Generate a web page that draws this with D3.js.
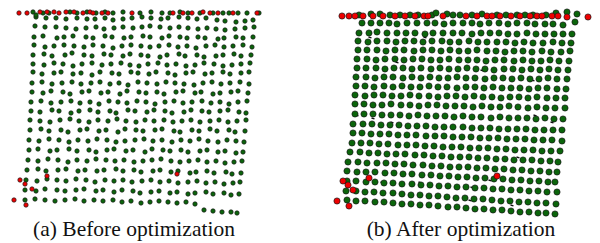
<!DOCTYPE html>
<html>
<head>
<meta charset="utf-8">
<script src="https://cdn.jsdelivr.net/npm/d3@7"></script>
<style>
  html, body { margin: 0; padding: 0; background: #fff; }
  svg { display: block; }
</style>
</head>
<body>
<div id="chart"></div>
<script>
// ---------------- DATA ----------------
const captions = ["(a) Before optimization", "(b) After optimization"];

// Panel (a): grid rows (x per point, y per point), panel units
const aRowsX = [
  [36,46,56,66,77,87,95,105,113,123,132,142,151,161,168,179,188,197,206,217,225,236,245,253],
  [35,45,56,66,76,86,96,104,114,123,133,142,150,160,170,179,188,198,207,216,225,235,245,254],
  [34,43,57,64,73,86,93,105,112,124,131,143,150,162,169,180,187,198,205,218,224,236,243,253],
  [34,45,54,64,74,84,93,103,113,122,131,141,150,159,169,178,187,196,206,215,224,233,243,252],
  [33,44,52,65,72,84,92,104,111,123,130,141,148,160,167,179,185,197,204,216,223,234,241,251],
  [33,44,54,63,73,82,92,102,111,121,130,139,148,158,167,176,186,195,204,214,223,232,241,250],
  [33,42,54,61,73,81,92,100,112,119,131,138,149,156,168,175,186,193,205,212,223,230,241,249],
  [32,42,52,62,72,81,91,100,110,119,128,138,147,157,166,175,184,194,203,212,221,230,240,249],
  [32,43,51,63,70,82,89,101,108,120,127,139,146,157,164,176,183,195,201,213,220,231,238,248],
  [31,41,51,61,71,80,90,99,109,118,127,137,146,155,165,174,183,192,202,211,220,229,238,247],
  [31,40,52,59,71,79,90,98,110,116,128,135,147,154,165,172,184,191,202,209,220,228,239,246],
  [30,40,50,60,70,79,89,98,108,117,126,136,145,154,164,173,182,191,200,210,219,228,237,246],
  [30,41,49,61,68,80,87,99,106,118,125,136,143,155,162,174,180,192,199,210,217,229,235,245],
  [29,39,49,59,69,78,88,97,107,116,125,135,144,153,162,172,181,190,199,208,218,227,236,244],
  [29,38,50,57,69,77,89,96,107,114,126,133,145,152,163,170,181,188,200,207,218,225,236,243],
  [28,38,48,58,68,77,87,96,106,115,124,134,143,152,161,171,180,189,198,207,216,225,234,242],
  [27,38,46,58,66,78,85,97,104,116,123,134,141,153,160,171,178,190,196,207,214,226,232,241],
  [26,37,47,57,66,76,86,95,105,114,123,132,142,151,160,169,178,188,197,206,215,224,233,240],
  [25,36,45,57,65,76,84,96,103,114,122,133,140,151,159,170,177,188,195,206,213,224,231,239],
  [25,35,45,55,65,75,84,94,103,113,122,131,141,150,159,168,177,186,195,204,213,222,231,237]
];
const aRowsY = [
  [17,18,18,19,18,19,19,18,20,19,18,17,18,19,18,17,18,19,18,20,21,22,21,20],
  [26,27,27,28,29,28,27,29,28,27,28,27,26,27,28,27,28,29,28,29,30,29,28,27],
  [37,36,38,37,36,37,38,36,37,38,37,36,37,38,36,37,38,37,38,39,38,37,38,37],
  [45,47,46,45,46,47,45,46,48,46,45,46,47,46,45,47,46,48,46,45,47,46,45,47],
  [55,54,56,55,53,55,56,54,55,56,54,55,56,57,55,54,56,55,57,56,55,54,56,55],
  [64,65,63,64,66,64,63,65,64,63,65,66,64,63,65,64,66,65,63,64,66,65,64,63],
  [72,74,73,72,74,73,75,72,73,74,72,73,74,72,73,75,73,72,74,73,72,74,73,72],
  [83,82,84,83,82,84,83,82,84,83,85,82,83,84,82,83,84,85,83,82,84,83,82,84],
  [92,93,91,92,94,92,91,93,92,94,91,92,93,92,94,92,91,93,92,94,93,92,91,93],
  [102,101,103,102,101,103,102,104,101,102,103,101,102,104,102,101,103,102,101,103,102,104,102,101],
  [111,112,110,111,113,111,110,112,111,113,110,111,112,110,111,113,112,110,111,112,111,110,112,113],
  [120,121,122,120,119,121,122,120,121,119,121,122,120,121,120,122,121,120,122,121,120,122,121,120],
  [130,129,131,130,132,130,129,131,130,132,129,130,131,130,129,131,132,130,131,129,131,130,132,131],
  [140,141,139,140,142,140,141,139,140,142,141,140,139,141,140,142,140,141,139,141,142,140,141,142],
  [150,149,151,150,149,151,150,152,150,149,151,150,152,149,150,151,150,152,151,150,152,151,153,152],
  [160,161,159,160,162,160,161,159,160,161,160,162,161,160,159,161,162,161,160,162,161,163,162,161],
  [170,169,171,170,169,171,170,171,170,169,171,170,172,171,170,172,171,173,172,171,173,172,174,173],
  [180,181,179,180,181,179,180,182,180,181,180,182,181,180,182,181,183,182,181,183,182,184,183,182],
  [190,191,189,190,191,190,189,191,190,192,190,191,193,192,191,193,192,194,193,192,194,193,195,194],
  [200,199,200,201,200,199,201,200,201,200,202,201,203,202,201,202,203,202,204,210,211,212,212,213]
];
// Panel (a) top edge points
const aTopRed = [[19,13],[27,13],[40,12],[47,12],[54,12],[59,13],[66,12],[74,12],[83,13],[90,12],[93,13],[102,13],[108,13],[132,13],[173,13],[183,13],[192,13],[203,12],[210,13],[218,13],[233,13],[257,13]];
const aTopGreen = [[33,12],[36,15],[43,13],[49,13],[70,12],[77,13],[87,12],[96,13],[105,12],[113,13],[123,12],[140,13],[151,12],[162,13],[170,13],[180,12],[188,13],[200,13],[213,13],[223,13],[229,13],[238,13],[247,13],[259,13]];
// Panel (a) red outliers
const aRed = [[14,200],[26,205],[20,180],[25,184],[32,189],[47,176],[177,174]];

// Panel (b): grid rows
const bRowsX = [
  [62,71,80,89,97,107,117,127,135,144,153,163,172,180,189,199,208,217,227,235,245,253,263,275],
  [59,69,77,87,97,106,115,125,133,143,153,162,172,181,190,199,208,217,227,236,245,254,263,272],
  [58,68,77,87,96,105,114,123,132,142,150,159,169,178,187,197,206,215,224,233,243,253,262,271],
  [58,67,77,86,95,104,114,123,132,141,150,159,168,177,187,196,205,214,223,232,242,251,261,270],
  [57,67,76,85,95,104,113,122,131,140,149,159,168,177,186,195,204,214,223,232,241,250,259,269],
  [57,66,76,85,94,103,112,121,131,140,149,158,167,176,185,194,204,213,222,231,240,249,258,268],
  [56,66,75,84,93,103,112,121,130,139,148,157,166,175,185,194,203,212,221,230,239,248,257,267],
  [56,65,74,84,93,102,111,120,129,138,147,157,166,175,184,193,202,211,220,229,238,247,257,266],
  [55,65,74,83,92,101,110,119,129,138,147,156,165,174,183,192,201,210,219,228,237,247,256,265],
  [55,64,73,82,91,101,110,119,128,137,146,155,164,173,182,191,200,209,218,228,237,246,255,265],
  [55,64,73,82,91,100,109,118,127,136,145,154,163,172,181,191,200,209,218,227,236,245,254,263],
  [53,63,72,81,90,99,108,117,126,135,144,153,163,172,181,190,199,208,217,226,235,244,253,262],
  [53,62,71,80,89,98,107,116,126,135,144,153,162,171,180,189,198,207,216,225,234,243,252,262],
  [52,61,70,79,88,98,107,116,125,134,143,152,161,170,179,188,197,206,215,224,233,242,251,260],
  [50,60,69,78,87,96,105,115,124,133,142,151,160,169,178,187,196,205,214,223,232,241,250,258],
  [48,58,67,77,86,95,104,113,123,132,141,150,159,168,177,186,195,204,213,222,231,240,249,257],
  [47,57,66,75,85,94,103,112,122,131,140,149,158,167,176,185,194,203,212,221,230,239,248,255],
  [47,56,66,75,84,93,102,112,121,130,139,148,157,166,175,184,193,202,211,220,229,238,247,257],
  [46,56,65,74,83,93,102,111,120,129,138,147,156,165,174,183,192,201,210,219,228,237,246,256],
  [47,56,65,75,84,93,102,111,120,129,138,148,157,166,175,184,193,202,211,220,229,238,246,255]
];
const bRowsY = [
  [23,23,23,23,24,23,23,23,23,24,23,23,23,24,23,23,24,23,23,24,24,24,25,22],
  [33,33,32,33,33,33,33,34,33,33,33,33,34,33,33,33,34,34,33,34,34,34,34,34],
  [41,42,41,41,42,41,41,42,41,41,42,42,41,42,42,42,42,43,42,43,43,42,43,43],
  [50,50,50,51,50,50,51,50,50,51,50,51,51,50,51,51,52,51,51,52,51,52,52,51],
  [59,59,60,59,59,60,59,59,60,60,59,60,60,60,61,60,60,61,60,61,61,60,61,61],
  [68,68,68,69,68,68,69,68,69,68,69,69,68,69,69,70,69,69,70,69,70,69,70,70],
  [77,77,78,77,77,78,77,78,77,78,78,77,78,78,79,78,78,79,78,79,79,78,79,79],
  [86,86,87,86,87,86,87,87,86,87,87,88,87,87,88,87,88,88,88,89,88,88,89,89],
  [95,96,95,95,96,96,95,96,96,97,96,96,97,96,97,97,98,97,97,98,97,98,98,98],
  [104,104,105,105,104,105,105,106,105,105,106,106,106,107,106,107,107,106,107,108,107,108,108,108],
  [114,114,114,115,115,115,116,115,116,116,116,117,116,117,117,118,117,118,118,118,119,118,119,119],
  [124,124,124,125,125,125,126,126,126,127,127,127,127,128,128,128,129,129,129,129,130,130,130,130],
  [133,133,134,134,134,135,135,135,136,136,136,137,137,137,138,138,138,139,139,139,140,140,140,141],
  [143,143,143,144,144,145,145,145,146,146,147,147,147,148,148,148,149,149,150,150,150,151,151,151],
  [152,152,153,153,154,154,154,155,155,156,156,157,157,157,158,158,159,159,160,160,160,161,161,162],
  [162,162,163,163,163,164,164,165,165,166,166,167,167,167,168,168,169,169,170,170,171,171,172,172],
  [171,172,172,172,173,173,174,174,175,175,176,176,177,177,178,178,179,179,180,180,181,181,182,182],
  [181,181,182,182,183,183,184,184,185,185,186,186,187,187,188,188,189,189,190,190,191,191,192,192],
  [191,191,192,192,193,193,194,195,195,196,196,197,198,198,199,199,200,201,201,202,202,203,203,204],
  [200,201,201,202,202,203,204,204,205,205,206,207,207,208,209,209,210,210,211,212,212,213,213,214]
];
const bTopRed = [[42,16],[49,16],[55,16],[63,16],[73,16],[83,16],[95,16],[105,16],[115,16],[124,16],[128,16],[143,16],[166,16],[177,16],[187,16],[192,16],[200,16],[211,16],[220,16],[230,16],[237,16],[242,16],[252,16],[258,16],[267,17],[288,17]];
const bTopGreen = [[59,15],[71,14],[80,14],[90,15],[100,15],[110,15],[118,15],[132,15],[136,13],[147,14],[153,15],[160,15],[172,15],[182,14],[197,15],[206,15],[217,15],[225,15],[233,15],[246,15],[256,13],[267,12],[277,14]];
const bRed = [[43,181],[48,185],[53,190],[69,178],[37,201],[49,206],[197,176]];
// small dark displacement marks in panel (b)
const bMarks = [[58,32],[70,37],[97,62],[125,37],[182,70],[233,80],[270,50],[268,68],[57,115],[73,118],[92,122],[145,127],[235,115],[252,122],[218,157],[230,182],[190,180],[172,187],[82,182],[120,182],[212,205],[170,200]];

// ---------------- DRAW ----------------
const W = 600, H = 243;
const svg = d3.select("#chart").append("svg").attr("width", W).attr("height", H);

const panels = [
  {off: 0,   rowsX: aRowsX, rowsY: aRowsY, topRed: aTopRed, topGreen: aTopGreen, red: aRed, marks: [], r: 2.2, cap: captions[0], capX: 134},
  {off: 300, rowsX: bRowsX, rowsY: bRowsY, topRed: bTopRed, topGreen: bTopGreen, red: bRed, marks: bMarks, r: 3.1, cap: captions[1], capX: 461}
];

const green = "#0b650b", red = "#ee0000";

panels.forEach(p => {
  const x = d3.scaleLinear().domain([0, 300]).range([p.off, p.off + 300]);
  const y = d3.scaleLinear().domain([0, 243]).range([0, 243]);
  const g = svg.append("g");

  const grid = [];
  p.rowsX.forEach((row, i) => row.forEach((v, j) => grid.push([v, p.rowsY[i][j]])));

  g.selectAll(".mk").data(p.marks).enter().append("line")
    .attr("x1", d => x(d[0]) - 1.5).attr("x2", d => x(d[0]) + 1.5)
    .attr("y1", d => y(d[1])).attr("y2", d => y(d[1]) + 0.8)
    .attr("stroke", "#111").attr("stroke-width", 1.3);

  const dot = (data, fill) => g.append("g").selectAll("circle").data(data).enter().append("circle")
    .attr("cx", d => x(d[0])).attr("cy", d => y(d[1])).attr("r", p.r)
    .attr("fill", fill).attr("stroke", "#1a1a1a").attr("stroke-width", 0.7);

  dot(grid, green);
  dot(p.topGreen, green);
  dot(p.topRed, red);
  dot(p.red, red);

  svg.append("text").attr("x", p.capX).attr("y", 236)
    .attr("text-anchor", "middle")
    .attr("font-family", "'Liberation Serif', 'Times New Roman', serif")
    .attr("font-size", 21.5).attr("fill", "#111")
    .text(p.cap);
});
</script>
</body>
</html>
